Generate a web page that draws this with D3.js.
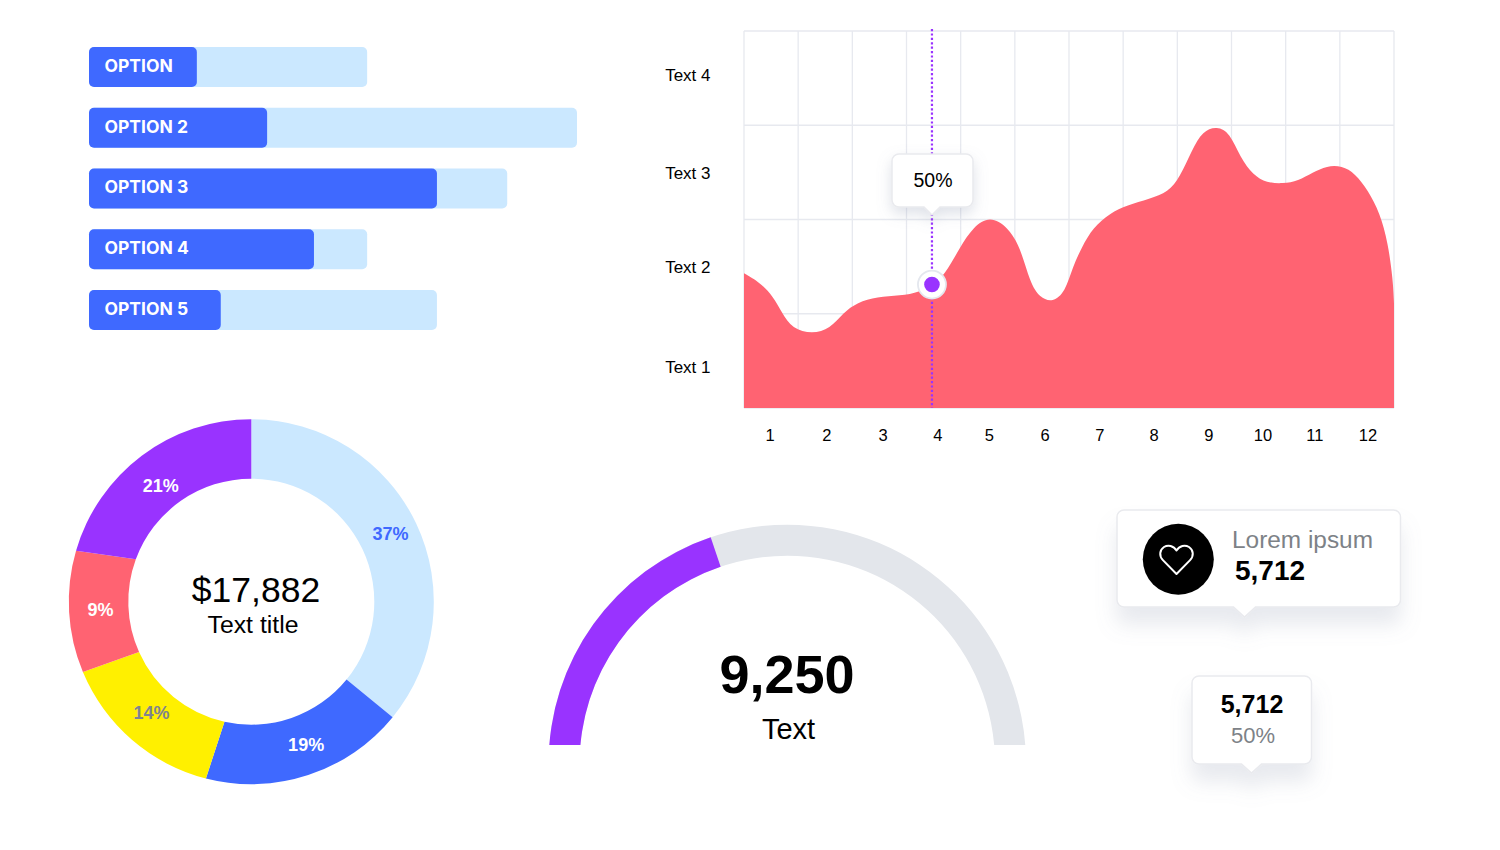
<!DOCTYPE html>
<html>
<head>
<meta charset="utf-8">
<title>Dashboard</title>
<script src="https://cdn.jsdelivr.net/npm/d3@7"></script>
<style>
  html, body { margin: 0; padding: 0; background: #fff; }
  svg { display: block; }
  text { font-family: "Liberation Sans", Arial, sans-serif; }
</style>
</head>
<body>
<div class="chart"></div>
<script>
var svgWidth = 1500;
var svgHeight = 850;

var blue = "#3f69ff";
var lightBlue = "#cbe8ff";
var purple = "#9933ff";
var red = "#ff6372";
var yellow = "#fff000";
var grey = "#e3e6eb";
var textGrey = "#7d8287";

var svg = d3.select(".chart")
  .append("svg")
  .attr("width", svgWidth)
  .attr("height", svgHeight);

var defs = svg.append("defs");

// soft shadows under the cards
function addShadow(id, dy, blur, opacity) {
  defs.append("filter")
    .attr("id", id)
    .attr("x", "-30%").attr("y", "-30%")
    .attr("width", "160%").attr("height", "190%")
    .append("feDropShadow")
    .attr("dx", 0).attr("dy", dy)
    .attr("stdDeviation", blur)
    .attr("flood-color", "#8995ad")
    .attr("flood-opacity", opacity);
}
addShadow("cardShadow", 17, 10, 0.2);
addShadow("tipShadow", 6, 7, 0.28);

// ---------- Option bars ----------
var options = [
  { name: "OPTION", track: 57, fill: 22.1 },
  { name: "OPTION 2", track: 100, fill: 36.5 },
  { name: "OPTION 3", track: 85.7, fill: 71.3 },
  { name: "OPTION 4", track: 57, fill: 46.1 },
  { name: "OPTION 5", track: 71.3, fill: 27 }
];

var barX = d3.scaleLinear().domain([0, 100]).range([0, 488]);
var barY = d3.scaleBand()
  .domain(options.map(d => d.name))
  .range([47, 330])
  .paddingInner(0.3416);

var barGroup = svg.append("g").attr("transform", "translate(89, 0)");

var bars = barGroup.selectAll("g")
  .data(options)
  .enter()
  .append("g")
  .attr("transform", d => `translate(0, ${barY(d.name)})`);

bars.append("rect")
  .attr("width", d => barX(d.track))
  .attr("height", barY.bandwidth())
  .attr("rx", 5)
  .attr("fill", lightBlue);

bars.append("rect")
  .attr("width", d => barX(d.fill))
  .attr("height", barY.bandwidth())
  .attr("rx", 5)
  .attr("fill", blue);

bars.append("text")
  .attr("x", 15.5)
  .attr("y", barY.bandwidth() / 2 - 1.3)
  .attr("dy", "0.35em")
  .attr("fill", "#fff")
  .style("font-family", "Inter")
  .style("font-weight", 700)
  .style("font-size", "17.5px")
  .text(d => d.name);

// ---------- Area chart ----------
var curveData = [
  [0, 1.43], [0.30, 1.33], [0.54, 1.18], [0.70, 1.01], [0.89, 0.84], [1.26, 0.785],
  [1.59, 0.84], [1.83, 1.01], [2.09, 1.12], [2.46, 1.18], [2.88, 1.19], [3.25, 1.23],
  [3.47, 1.31], [3.71, 1.41], [3.99, 1.71], [4.23, 1.92], [4.54, 2.04], [4.87, 1.92],
  [5.10, 1.71], [5.28, 1.33], [5.46, 1.17], [5.70, 1.12], [5.93, 1.23], [6.07, 1.50],
  [6.24, 1.71], [6.44, 1.91], [6.76, 2.07], [7.07, 2.15], [7.49, 2.22], [7.83, 2.29],
  [8.05, 2.45], [8.27, 2.74], [8.47, 2.94], [8.73, 2.99], [8.97, 2.92], [9.16, 2.66],
  [9.40, 2.47], [9.65, 2.39], [9.95, 2.38], [10.23, 2.41], [10.50, 2.50], [10.76, 2.57],
  [11.04, 2.57], [11.28, 2.49], [11.52, 2.31], [11.74, 2.07], [11.89, 1.75], [11.98, 1.36],
  [12, 1.11]
];

// the tick labels do not sit at even spacing in the picture
var xTicks = [
  { label: 1, pos: 0.48 }, { label: 2, pos: 1.53 }, { label: 3, pos: 2.57 }, { label: 4, pos: 3.58 },
  { label: 5, pos: 4.53 }, { label: 6, pos: 5.56 }, { label: 7, pos: 6.57 }, { label: 8, pos: 7.57 },
  { label: 9, pos: 8.58 }, { label: 10, pos: 9.58 }, { label: 11, pos: 10.54 }, { label: 12, pos: 11.52 }
];
var yTicks = [
  { label: "Text 4", pos: 3.53 }, { label: "Text 3", pos: 2.49 },
  { label: "Text 2", pos: 1.49 }, { label: "Text 1", pos: 0.425 }
];

var xLinearScale = d3.scaleLinear().domain([0, 12]).range([744, 1394]);
var yLinearScale = d3.scaleLinear().domain([0, 4]).range([408, 31]);

var chartGroup = svg.append("g");

// grid
chartGroup.append("g").selectAll("line")
  .data(d3.range(0, 13))
  .enter()
  .append("line")
  .attr("x1", d => xLinearScale(d))
  .attr("x2", d => xLinearScale(d))
  .attr("y1", yLinearScale(4))
  .attr("y2", yLinearScale(0))
  .attr("stroke", "#e7e9ef")
  .attr("stroke-width", 1.3);

chartGroup.append("g").selectAll("line")
  .data(d3.range(0, 5))
  .enter()
  .append("line")
  .attr("x1", xLinearScale(0))
  .attr("x2", xLinearScale(12))
  .attr("y1", d => yLinearScale(d))
  .attr("y2", d => yLinearScale(d))
  .attr("stroke", "#e7e9ef")
  .attr("stroke-width", 1.3);

var area = d3.area()
  .x(d => xLinearScale(d[0]))
  .y0(yLinearScale(0))
  .y1(d => yLinearScale(d[1]))
  .curve(d3.curveBasis);

chartGroup.append("path")
  .datum(curveData)
  .attr("d", area)
  .attr("fill", red);

// axes
var bottomScale = d3.scaleOrdinal()
  .domain(xTicks.map(d => d.label))
  .range(xTicks.map(d => xLinearScale(d.pos)));
var leftScale = d3.scaleOrdinal()
  .domain(yTicks.map(d => d.label))
  .range(yTicks.map(d => yLinearScale(d.pos)));

var bottomAxis = d3.axisBottom(bottomScale).tickSize(0).tickPadding(21).offset(0);
var leftAxis = d3.axisLeft(leftScale).tickSize(0).tickPadding(0).offset(0);

var xAxisGroup = chartGroup.append("g")
  .attr("transform", `translate(0, ${yLinearScale(0)})`)
  .call(bottomAxis);
var yAxisGroup = chartGroup.append("g")
  .attr("transform", "translate(710.5, 0)")
  .call(leftAxis);

xAxisGroup.select(".domain").remove();
yAxisGroup.select(".domain").remove();
xAxisGroup.selectAll("text").attr("fill", "#000").style("font-size", "16.5px").style("font-family", "Liberation Sans");
yAxisGroup.selectAll("text").attr("fill", "#000").style("font-size", "17px").style("font-family", "Liberation Sans");

// marker at category 4
var marker = curveData[12];

chartGroup.append("line")
  .attr("x1", xLinearScale(marker[0]))
  .attr("x2", xLinearScale(marker[0]))
  .attr("y1", 29)
  .attr("y2", yLinearScale(0))
  .attr("stroke", purple)
  .attr("stroke-width", 2.2)
  .attr("stroke-dasharray", "2.2 2.2");

chartGroup.append("circle")
  .attr("cx", xLinearScale(marker[0]))
  .attr("cy", yLinearScale(marker[1]))
  .attr("r", 14)
  .attr("fill", "#fff")
  .attr("stroke", "#e4e7ee")
  .attr("stroke-width", 1.8);

chartGroup.append("circle")
  .attr("cx", xLinearScale(marker[0]))
  .attr("cy", yLinearScale(marker[1]))
  .attr("r", 7.8)
  .attr("fill", purple);

// rounded box with a small pointer at the bottom
function callout(x, y, w, h, tipX, tipH, tipW, filter) {
  var r = 7;
  var p = d3.path();
  p.moveTo(x + r, y);
  p.lineTo(x + w - r, y);
  p.arcTo(x + w, y, x + w, y + r, r);
  p.lineTo(x + w, y + h - r);
  p.arcTo(x + w, y + h, x + w - r, y + h, r);
  p.lineTo(tipX + tipW, y + h);
  p.lineTo(tipX, y + h + tipH);
  p.lineTo(tipX - tipW, y + h);
  p.lineTo(x + r, y + h);
  p.arcTo(x, y + h, x, y + h - r, r);
  p.lineTo(x, y + r);
  p.arcTo(x, y, x + r, y, r);
  p.closePath();
  svg.append("path")
    .attr("d", p.toString())
    .attr("fill", "#fff")
    .attr("stroke", "#e9eaee")
    .attr("stroke-width", 1.5)
    .attr("filter", `url(#${filter})`);
}

callout(892, 154, 81, 53, 932, 8, 8, "tipShadow");

svg.append("text")
  .attr("x", 933)
  .attr("y", 187)
  .attr("text-anchor", "middle")
  .style("font-size", "19.5px")
  .text("50%");

// ---------- Donut ----------
// the cuts between slices are not quite radial, so each has an outer and an inner edge (in %)
var slices = [
  { outerEnd: 35.9, innerEnd: 35.9, label: "37%", color: lightBlue, textColor: blue, labelAngle: 64, labelR: 155 },
  { outerEnd: 54, innerEnd: 53.5, label: "19%", color: blue, textColor: "#fff", labelAngle: 159, labelR: 153 },
  { outerEnd: 68.7, innerEnd: 68.3, label: "14%", color: yellow, textColor: "#7f8490", labelAngle: 222, labelR: 149 },
  { outerEnd: 79.5, innerEnd: 80.6, label: "9%", color: red, textColor: "#fff", labelAngle: 267, labelR: 151 },
  { outerEnd: 100, innerEnd: 100, label: "21%", color: purple, textColor: "#fff", labelAngle: 322, labelR: 147 }
];

var donutGroup = svg.append("g").attr("transform", "translate(251.3, 601.7)");

var donutAngle = d3.scaleLinear().domain([0, 100]).range([-Math.PI / 2, Math.PI * 1.5]);
var outerR = 182.5;
var innerR = 123;

function slicePath(d, i) {
  var prev = i > 0 ? slices[i - 1] : { outerEnd: 0, innerEnd: 0 };
  var p = d3.path();
  p.arc(0, 0, outerR, donutAngle(prev.outerEnd), donutAngle(d.outerEnd));
  p.arc(0, 0, innerR, donutAngle(d.innerEnd), donutAngle(prev.innerEnd), true);
  p.closePath();
  return p.toString();
}

donutGroup.selectAll("path")
  .data(slices)
  .enter()
  .append("path")
  .attr("d", slicePath)
  .attr("fill", d => d.color);

donutGroup.selectAll("text.pct")
  .data(slices)
  .enter()
  .append("text")
  .attr("class", "pct")
  .attr("transform", d => `translate(${d3.pointRadial(d.labelAngle * Math.PI / 180, d.labelR)})`)
  .attr("text-anchor", "middle")
  .attr("dy", "0.35em")
  .attr("fill", d => d.textColor)
  .style("font-size", "18px")
  .style("font-weight", "bold")
  .text(d => d.label);

svg.append("text")
  .attr("x", 256)
  .attr("y", 602)
  .attr("text-anchor", "middle")
  .style("font-size", "35.5px")
  .text("$17,882");

svg.append("text")
  .attr("x", 253)
  .attr("y", 633)
  .attr("text-anchor", "middle")
  .style("font-size", "24.8px")
  .text("Text title");

// ---------- Half gauge ----------
var gaugeShare = 0.396;
var gaugeAngle = d3.scaleLinear().domain([0, 1]).range([-Math.PI / 2, Math.PI / 2]);
var gaugeArc = d3.arc().innerRadius(207.7).outerRadius(238.7);

// the ring is cut flat at the bottom
defs.append("clipPath")
  .attr("id", "gaugeClip")
  .append("rect")
  .attr("x", 500).attr("y", 500)
  .attr("width", 580).attr("height", 245);

var gaugeGroup = svg.append("g").attr("clip-path", "url(#gaugeClip)")
  .append("g")
  .attr("transform", "translate(787.3, 763.4)");

gaugeGroup.append("path")
  .attr("d", gaugeArc({ startAngle: gaugeAngle(0), endAngle: gaugeAngle(1) }))
  .attr("fill", grey);

gaugeGroup.append("path")
  .attr("d", gaugeArc({ startAngle: gaugeAngle(0), endAngle: gaugeAngle(gaugeShare) }))
  .attr("fill", purple);

svg.append("text")
  .attr("x", 787)
  .attr("y", 693)
  .attr("text-anchor", "middle")
  .style("font-size", "54px")
  .style("font-weight", "bold")
  .text("9,250");

svg.append("text")
  .attr("x", 788.5)
  .attr("y", 738.5)
  .attr("text-anchor", "middle")
  .style("font-size", "29px")
  .text("Text");

// ---------- Cards ----------
callout(1117, 510, 283.5, 97, 1244.5, 10, 11, "cardShadow");

svg.append("circle")
  .attr("cx", 1178.3)
  .attr("cy", 559.3)
  .attr("r", 35.5)
  .attr("fill", "#000");

svg.append("path")
  .attr("transform", "translate(1176.5, 559.5)")
  .attr("d", "M0 14.5 L-13.6 0.6 C-17.6 -3.6 -17 -9.5 -12.5 -12.5 C-8.5 -15 -3 -14 0 -9 C3 -14 8.5 -15 12.5 -12.5 C17 -9.5 17.6 -3.6 13.6 0.6 Z")
  .attr("fill", "none")
  .attr("stroke", "#fff")
  .attr("stroke-width", 2)
  .attr("stroke-linejoin", "round");

svg.append("text")
  .attr("x", 1232)
  .attr("y", 548)
  .attr("fill", textGrey)
  .style("font-size", "24.4px")
  .text("Lorem ipsum");

svg.append("text")
  .attr("x", 1235)
  .attr("y", 580)
  .style("font-size", "28px")
  .style("font-weight", "bold")
  .text("5,712");

callout(1192, 676, 119.5, 88, 1251.5, 9, 10, "cardShadow");

svg.append("text")
  .attr("x", 1252)
  .attr("y", 713)
  .attr("text-anchor", "middle")
  .style("font-size", "25px")
  .style("font-weight", "bold")
  .text("5,712");

svg.append("text")
  .attr("x", 1253)
  .attr("y", 743)
  .attr("text-anchor", "middle")
  .attr("fill", textGrey)
  .style("font-size", "22px")
  .text("50%");
</script>
</body>
</html>
